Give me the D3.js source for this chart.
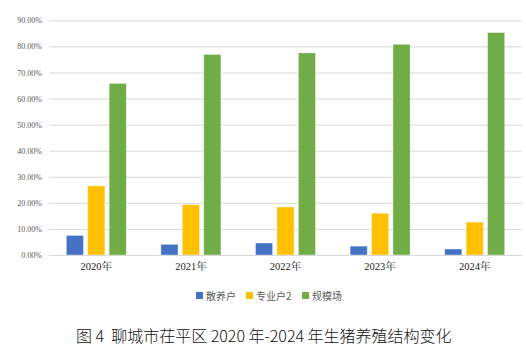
<!DOCTYPE html>
<html><head><meta charset="utf-8">
<script src="https://cdn.jsdelivr.net/npm/d3@7"></script>
<style>body{margin:0;background:#fff}svg{display:block}</style>
</head><body>
<script>
const categories = ["2020年","2021年","2022年","2023年","2024年"];
const seriesNames = ["散养户","专业户2","规模场"];
const sanyang = [7.5, 4.1, 4.6, 3.4, 2.3];
const zhuanye = [26.5, 19.3, 18.4, 16.0, 12.6];
const guimo = [65.8, 76.9, 77.5, 80.8, 85.3];
const colors = ["#4472C4","#FFC000","#70AD47"];
const yTicks = [0,10,20,30,40,50,60,70,80,90];
const caption = "图 4\u00A0\u00A0聊城市茌平区 2020 年-2024 年生猪养殖结构变化";

const W=526,H=354;
const svg=d3.select("body").append("svg").attr("width",W).attr("height",H);
const m={l:49,r:522,t:20.3,b:255};
const x=d3.scaleBand().domain(categories).range([m.l,m.r]);
const xs=d3.scaleBand().domain(seriesNames).range([-30,30]).paddingInner(0.2);
const y=d3.scaleLinear().domain([0,90]).range([m.b,m.t]);

const yAxis=d3.axisLeft(y).tickValues(yTicks).tickFormat(d=>d.toFixed(2)+"%").tickSize(-(m.r-m.l)).tickPadding(7);
const ga=svg.append("g").attr("transform",`translate(${m.l},0)`).call(yAxis);
ga.attr("font-family",null);
ga.select(".domain").remove();
ga.selectAll("line").attr("stroke","#d9d9d9").attr("stroke-width",1);
ga.selectAll("text").attr("fill","#595959").style("font-family","'Liberation Serif','Times New Roman',serif").style("font-size","8px");

const data=[sanyang,zhuanye,guimo];
categories.forEach((c,i)=>{
  const cx=x(c)+x.bandwidth()/2;
  seriesNames.forEach((s,j)=>{
    const v=data[j][i];
    svg.append("rect").attr("x",cx+xs(s)).attr("width",xs.bandwidth())
      .attr("y",y(v)).attr("height",y(0)-y(v)).attr("fill",colors[j])
      .attr("stroke","#ffffff").attr("stroke-opacity",0.5).attr("stroke-width",0.75);
  });
});
svg.append("line").attr("x1",m.l).attr("x2",m.r).attr("y1",m.b+0.5).attr("y2",m.b+0.5).attr("stroke","#d9d9d9");

const xAxis=d3.axisBottom(x).tickSize(0).tickPadding(8);
const gx=svg.append("g").attr("transform",`translate(0,${m.b})`).call(xAxis);
gx.attr("font-family",null);
gx.select(".domain").remove();
gx.selectAll("text").attr("fill","#222").style("font-family","'Liberation Serif','Times New Roman','Noto Serif CJK SC',serif").style("font-size","10.5px");

// legend
const lg=svg.append("g").attr("transform","translate(196,296)");
const legX=[0,50,106];
seriesNames.forEach((s,j)=>{
  lg.append("rect").attr("x",legX[j]).attr("y",-4).attr("width",7).attr("height",7).attr("fill",colors[j]);
  lg.append("text").attr("x",legX[j]+10).attr("y",0).attr("dy","0.35em").text(s)
    .attr("fill","#595959").style("font-family","'Noto Sans CJK SC',sans-serif").style("font-size","10px");
});

svg.append("text").attr("x",76).attr("y",342).text(caption).attr("fill","#111")
  .style("font-family","'Noto Sans CJK SC',sans-serif").style("font-weight","300").style("font-size","16px");
</script>
</body></html>
